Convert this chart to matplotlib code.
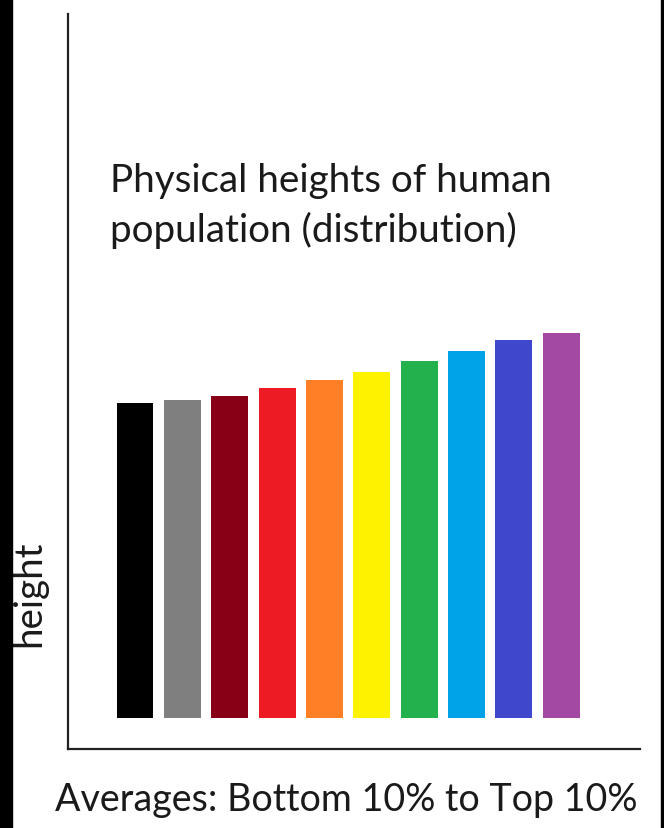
import matplotlib
matplotlib.use("Agg")
import matplotlib.pyplot as plt
from matplotlib.patches import Rectangle

# data
groups = ["Bottom 10%", "2", "3", "4", "5", "6", "7", "8", "9", "Top 10%"]
heights = [63.0, 63.6, 64.5, 66.1, 67.7, 69.3, 71.4, 73.5, 75.6, 77.1]
colors = ["#000000", "#7F7F7F", "#880015", "#ED1C24", "#FF7F27",
          "#FFF200", "#22B14C", "#00A2E8", "#3F48CC", "#A349A4"]
title = "Physical heights of human\npopulation (distribution)"
xlabel = "Averages: Bottom 10% to Top 10%"
ylabel = "height"

W, H = 664, 829
fig = plt.figure(figsize=(W / 100, H / 100), dpi=100)
fig.patch.set_facecolor("white")

ax = fig.add_axes([68 / W, 1 - 750 / H, (640 - 68) / W, (750 - 15) / H])
x = list(range(len(heights)))
ax.bar(x, heights, width=0.78, color=colors, bottom=0)
ax.set_xlim(-1.415, 10.665)
ax.set_ylim(-6.2, 140.8)
for s in ["top", "right"]:
    ax.spines[s].set_visible(False)
for s in ["left", "bottom"]:
    ax.spines[s].set_linewidth(1.6)
    ax.spines[s].set_color("#222222")
ax.set_xticks([])
ax.set_yticks([])

fam = ["Lato", "DejaVu Sans"]
tc = "#1a1a1a"

fig.canvas.draw()
r = fig.canvas.get_renderer()

def fit(t, target_w, vertical=False):
    t.set_fontsize(20)
    bb = t.get_window_extent(renderer=r)
    w = bb.height if vertical else bb.width
    t.set_fontsize(20 * target_w / w)

# title lines
t1 = fig.text(110 / W, 1 - 192 / H, "Physical heights of human", family=fam,
              color=tc, ha="left", va="baseline")
fit(t1, 443)
t2 = fig.text(110 / W, 1 - 242 / H, "population (distribution)", family=fam,
              color=tc, ha="left", va="baseline", fontsize=t1.get_fontsize())

tx = fig.text(346 / W, 1 - 811 / H, xlabel, family=fam, color=tc,
              ha="center", va="baseline")
fit(tx, 582)

ty = fig.text(29 / W, 1 - 594 / H, ylabel, family=fam, color=tc,
              ha="center", va="center", rotation=90)
fit(ty, 107, vertical=True)

# dark side strips of the source picture
fig.patches.append(Rectangle((0, 0), 12 / W, 1, transform=fig.transFigure,
                             color="black", zorder=10))
fig.patches.append(Rectangle((661 / W, 0), 3 / W, 1, transform=fig.transFigure,
                             color="black", zorder=10))

fig.savefig("out.png", dpi=100, facecolor="white")
